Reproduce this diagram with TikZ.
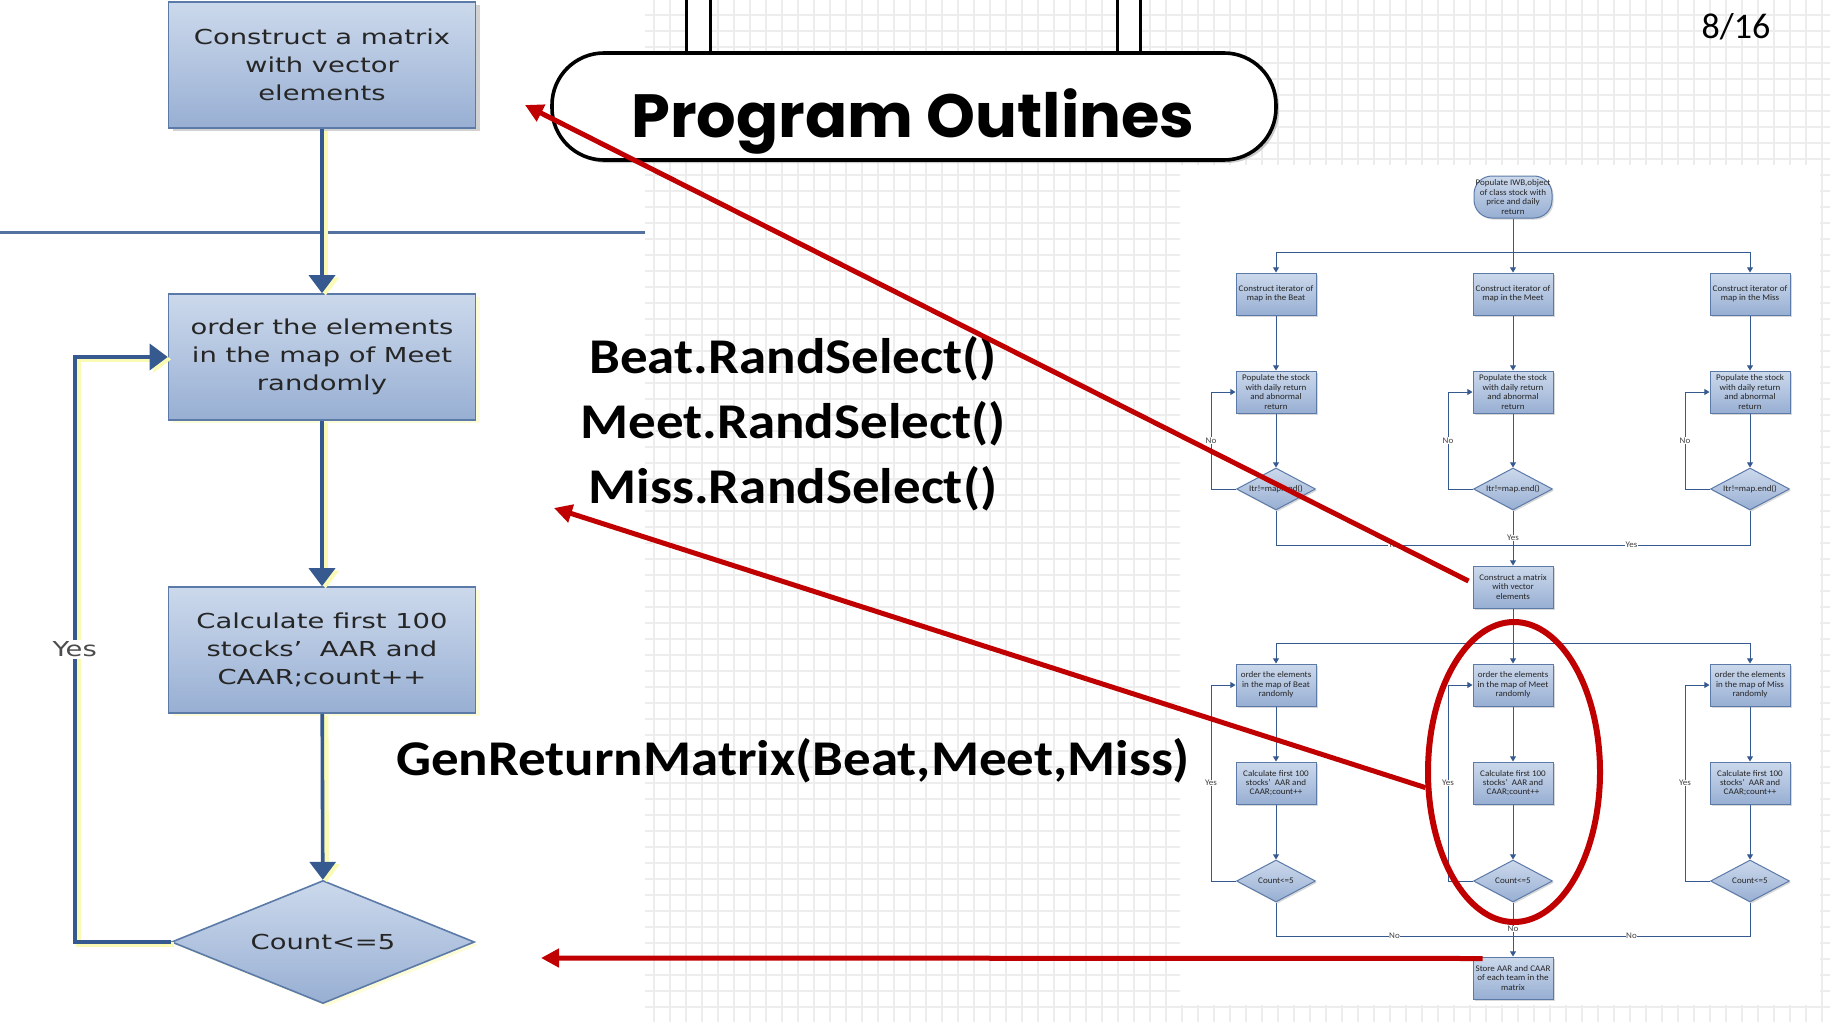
\documentclass[tikz,border=0pt]{standalone}
\usepackage{fontspec}
\setmainfont{Carlito}
\newfontfamily\boxfont[FakeStretch=1.33]{DejaVu Sans}
\newfontfamily\smallfont[FakeStretch=1.05]{Carlito}
\newfontfamily\codefont[FakeStretch=1.1]{Carlito}
\newfontfamily\titlefont[FakeStretch=1.02]{Poppins}
\usepackage{xcolor}
\usetikzlibrary{shapes.geometric,arrows.meta,shadows,positioning}

\definecolor{boxtop}{HTML}{CCD9EC}
\definecolor{boxbot}{HTML}{98AFD3}
\definecolor{boxline}{HTML}{5B7AA8}
\definecolor{flowline}{HTML}{36598F}
\definecolor{arrowred}{HTML}{C00000}
\definecolor{gridgray}{HTML}{EDEDED}
\definecolor{glow}{HTML}{FAFAB4}

\begin{document}
\begin{tikzpicture}[x=0.5pt, y=-0.5pt]
    \tikzstyle{bigbox} = [rectangle, draw=boxline, line width=0.8pt, top color=boxtop, bottom color=boxbot, minimum width=153.5pt, minimum height=63pt, inner sep=2pt, align=center, text=black!85, font=\boxfont\fontsize{10.3}{14}\selectfont]
    \tikzstyle{bigcheck} = [bigbox, diamond, aspect=2.46, inner sep=0pt, minimum width=151.5pt, minimum height=61.5pt]
    \tikzstyle{glowshadow} = [drop shadow={shadow xshift=2pt, shadow yshift=-1.5pt, fill=glow}]
    \tikzstyle{grayshadow} = [drop shadow={shadow xshift=2pt, shadow yshift=-1.5pt, fill=black!35}]
    \tikzstyle{bigarrow} = [flowline, line width=1.8pt, -{Triangle[width=13pt,length=9pt]}, preaction={draw=glow, line width=2.6pt, transform canvas={xshift=1.8pt,yshift=-1.2pt}}]
    \tikzstyle{smallbox} = [rectangle, draw=boxline, line width=0.5pt, top color=boxtop, bottom color=boxbot, minimum width=40pt, minimum height=21pt, inner sep=0.5pt, align=center, text=black!85, font=\smallfont\fontsize{4.3}{4.7}\selectfont, drop shadow={shadow xshift=0.8pt, shadow yshift=-0.8pt, fill=black!30}]
    \tikzstyle{smallcheck} = [smallbox, diamond, aspect=1.9, inner sep=0pt, minimum width=39.5pt, minimum height=21pt]
    \tikzstyle{smallarrow} = [flowline, line width=0.5pt, -{Triangle[width=3pt,length=2.6pt]}]
    \tikzstyle{smallline} = [flowline, line width=0.5pt]
    \tikzstyle{smalllabel} = [fill=white, inner sep=0.3pt, text=black!75, font=\smallfont\fontsize{4.3}{4.7}\selectfont]
    \tikzstyle{codetext} = [font=\codefont\bfseries\fontsize{25}{32}\selectfont, inner sep=0pt]
    \tikzstyle{redarrow} = [arrowred, line width=2.5pt, -{Triangle[width=9pt,length=9pt]}]
    \tikzstyle{pill} = [rectangle, rounded corners=26pt, draw=black, line width=1.8pt, fill=white, minimum width=362pt, minimum height=53.5pt, drop shadow={shadow xshift=1.5pt, shadow yshift=-1.5pt, fill=black!40}]
    \tikzstyle{hanger} = [draw=black, line width=1.5pt, fill=white]

    \useasboundingbox (0,0) rectangle (1830,1022);

    % Background grid
    \fill [white] (0,0) rectangle (1830,1022);
    \foreach \gx in {14,30,...,1830} \draw [gridgray, line width=0.7pt] (\gx,0) -- (\gx,1022);
    \foreach \gy in {15,31,...,1022} \draw [gridgray, line width=0.7pt] (0,\gy) -- (1830,\gy);
    \fill [white] (0,0) rectangle (645,1022);
    \fill [white] (1180,165) rectangle (1820,1005);

    % Zoomed flowchart
    \node [bigbox, grayshadow] (matrix) at (322,65) {Construct a matrix\\with vector\\elements};
    \node [bigbox, glowshadow] (order) at (322,357) {order the elements\\in the map of Meet\\randomly};
    \node [bigbox, glowshadow] (calc) at (322,650) {Calculate first 100\\stocks’\ \ AAR and\\CAAR;count++};
    \node [bigcheck, glowshadow] (count) at (323,942) {Count<=5};

    % Separator
    \coordinate (sepL) at (0,232);
    \coordinate (sepR) at (645,232);
    \draw [flowline!85, line width=1.5pt] (sepL) -- (sepR);

    \draw [bigarrow] (matrix) -- (order);
    \draw [bigarrow] (order) -- (calc);
    \draw [bigarrow] (calc) -- (count);
    \draw [bigarrow] (count.west) -- ++(-96,0) |- node [pos=0.25, fill=white, inner sep=1pt, text=black!70, font=\boxfont\fontsize{10.3}{14}\selectfont] {Yes} (order.west);

    % Banner
    \draw [hanger] (686,-4) rectangle (710,60);
    \draw [hanger] (1117,-4) rectangle (1140,60);
    \node [pill] (banner) at (914,106.5) {};
    \node [anchor=base, font=\titlefont\bfseries\fontsize{30.5}{32}\selectfont] (title) at (913,137) {Program Outlines};

    % Page number
    \node [anchor=base, font=\fontsize{18}{20}\selectfont] (page) at (1736,39) {8/16};

    % Full flowchart
    \node [smallbox, rounded corners=9pt, minimum width=39pt] (populate) at (1513,197) {Populate IWB,object\\of class stock with\\price and daily\\return};

    \node [smallbox] (itbeat) at (1276,294) {Construct iterator of\\map in the Beat};
    \node [smallbox] (itmeet) at (1513,294) {Construct iterator of\\map in the Meet};
    \node [smallbox] (itmiss) at (1750,294) {Construct iterator of\\map in the Miss};

    \node [smallbox] (popbeat) at (1276,392) {Populate the stock\\with daily return\\and abnormal\\return};
    \node [smallbox] (popmeet) at (1513,392) {Populate the stock\\with daily return\\and abnormal\\return};
    \node [smallbox] (popmiss) at (1750,392) {Populate the stock\\with daily return\\and abnormal\\return};

    \node [smallcheck] (endbeat) at (1276,489) {Itr!=map.end()};
    \node [smallcheck] (endmeet) at (1513,489) {Itr!=map.end()};
    \node [smallcheck] (endmiss) at (1750,489) {Itr!=map.end()};

    \node [smallbox] (matrixs) at (1513,587) {Construct a matrix\\with vector\\elements};

    \node [smallbox] (ordbeat) at (1276,685) {order the elements\\in the map of Beat\\randomly};
    \node [smallbox] (ordmeet) at (1513,685) {order the elements\\in the map of Meet\\randomly};
    \node [smallbox] (ordmiss) at (1750,685) {order the elements\\in the map of Miss\\randomly};

    \node [smallbox] (calcbeat) at (1276,783) {Calculate first 100\\stocks’\ \ AAR and\\CAAR;count++};
    \node [smallbox] (calcmeet) at (1513,783) {Calculate first 100\\stocks’\ \ AAR and\\CAAR;count++};
    \node [smallbox] (calcmiss) at (1750,783) {Calculate first 100\\stocks’\ \ AAR and\\CAAR;count++};

    \node [smallcheck] (cntbeat) at (1276,881) {Count<=5};
    \node [smallcheck] (cntmeet) at (1513,881) {Count<=5};
    \node [smallcheck] (cntmiss) at (1750,881) {Count<=5};

    \node [smallbox] (store) at (1513,978) {Store AAR and CAAR\\of each team in the\\matrix};

    % Arrows
    \coordinate (split1) at (1513,252);
    \draw [smallarrow] (populate) -- (itmeet);
    \draw [smallarrow] (split1) -| (itbeat);
    \draw [smallarrow] (split1) -| (itmiss);
    \draw [smallarrow] (itbeat) -- (popbeat);
    \draw [smallarrow] (itmeet) -- (popmeet);
    \draw [smallarrow] (itmiss) -- (popmiss);
    \draw [smallarrow] (popbeat) -- (endbeat);
    \draw [smallarrow] (popmeet) -- (endmeet);
    \draw [smallarrow] (popmiss) -- (endmiss);
    \draw [smallarrow] (endbeat.west) -- ++(-25,0) |- node [pos=0.25, smalllabel] {No} (popbeat.west);
    \draw [smallarrow] (endmeet.west) -- ++(-25,0) |- node [pos=0.25, smalllabel] {No} (popmeet.west);
    \draw [smallarrow] (endmiss.west) -- ++(-25,0) |- node [pos=0.25, smalllabel] {No} (popmiss.west);
    \coordinate (join1) at (1513,545);
    \draw [smallline] (endbeat) |- node [pos=0.75, smalllabel] {Yes} (join1);
    \draw [smallline] (endmiss) |- node [pos=0.75, smalllabel] {Yes} (join1);
    \draw [smallarrow] (endmeet) -- node [pos=0.5, smalllabel] {Yes} (matrixs);

    \coordinate (split2) at (1513,643);
    \draw [smallarrow] (matrixs) -- (ordmeet);
    \draw [smallarrow] (split2) -| (ordbeat);
    \draw [smallarrow] (split2) -| (ordmiss);
    \draw [smallarrow] (ordbeat) -- (calcbeat);
    \draw [smallarrow] (ordmeet) -- (calcmeet);
    \draw [smallarrow] (ordmiss) -- (calcmiss);
    \draw [smallarrow] (calcbeat) -- (cntbeat);
    \draw [smallarrow] (calcmeet) -- (cntmeet);
    \draw [smallarrow] (calcmiss) -- (cntmiss);
    \draw [smallarrow] (cntbeat.west) -- ++(-25,0) |- node [pos=0.25, smalllabel] {Yes} (ordbeat.west);
    \draw [smallarrow] (cntmeet.west) -- ++(-25,0) |- node [pos=0.25, smalllabel] {Yes} (ordmeet.west);
    \draw [smallarrow] (cntmiss.west) -- ++(-25,0) |- node [pos=0.25, smalllabel] {Yes} (ordmiss.west);
    \coordinate (join2) at (1513,936);
    \draw [smallline] (cntbeat) |- node [pos=0.75, smalllabel] {No} (join2);
    \draw [smallline] (cntmiss) |- node [pos=0.75, smalllabel] {No} (join2);
    \draw [smallarrow] (cntmeet) -- node [pos=0.49, smalllabel] {No} (store);

    % Function calls
    \node [codetext] (beatsel) at (793,359) {Beat.RandSelect()};
    \node [codetext] (meetsel) at (793,424) {Meet.RandSelect()};
    \node [codetext] (misssel) at (793,489) {Miss.RandSelect()};
    \node [codetext] (genret) at (793,761) {GenReturnMatrix(Beat,Meet,Miss)};

    % Red pointers
    \coordinate (tip1) at (525,105);
    \coordinate (tip2) at (554,508);
    \coordinate (tip3) at (541,958);
    \node [ellipse, draw=arrowred, line width=3pt, minimum width=86pt, minimum height=150pt, inner sep=0pt] (ring) at (1514,772) {};
    \draw [redarrow] ([xshift=-2pt,yshift=3pt]matrixs.west) -- (tip1);
    \draw [redarrow] (ring.190) -- (tip2);
    \draw [redarrow] ([xshift=5pt,yshift=-1pt]store.north west) -- (tip3);
\end{tikzpicture}
\end{document}
